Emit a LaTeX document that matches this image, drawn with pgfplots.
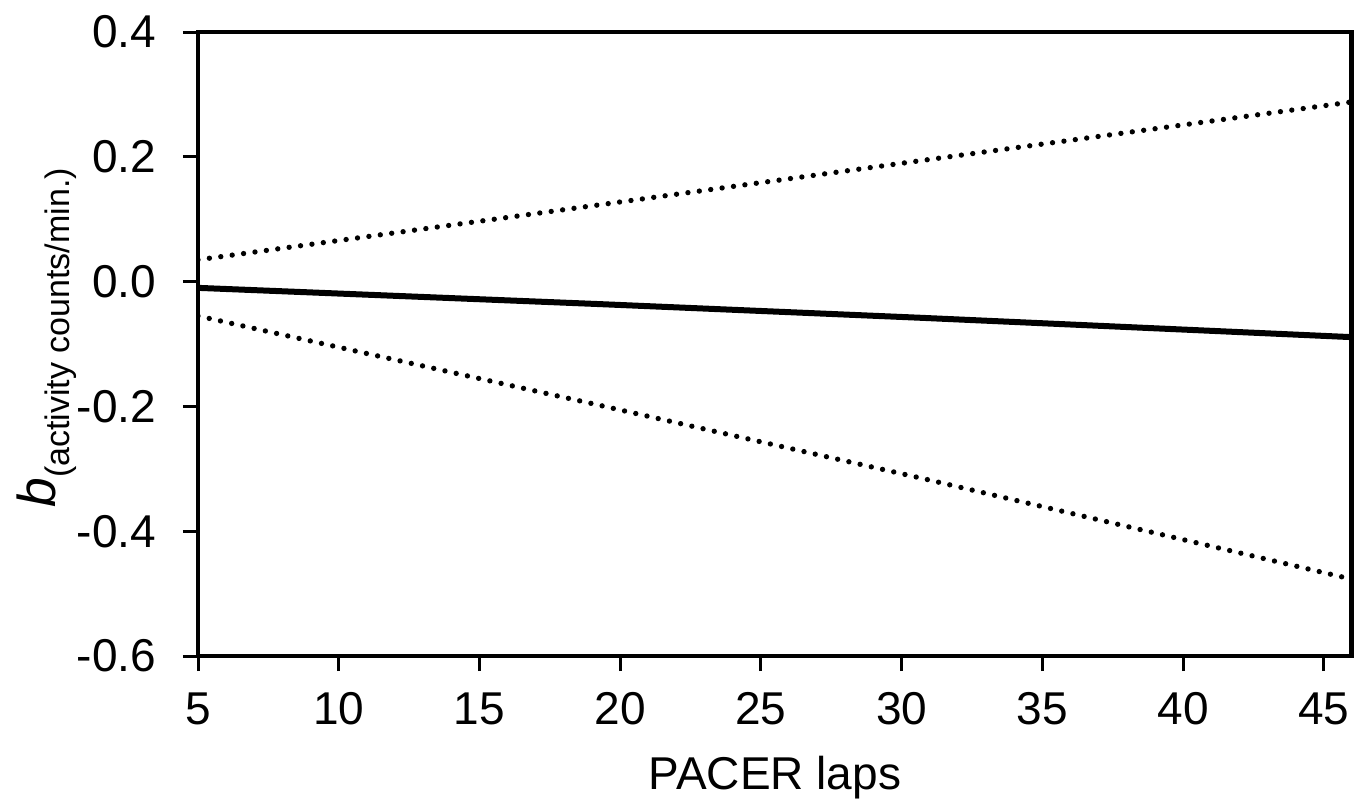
\documentclass[border=0pt]{standalone}
\usepackage{pgfplots}
\pgfplotsset{compat=1.18}
\usepackage{fontspec}
\setmainfont{Liberation Sans}
\begin{document}
\begin{tikzpicture}
% picture frame: 1 px of the reference = 0.3pt
\useasboundingbox (-59.4pt,-45pt) rectangle (349.8pt,196.8pt);
\begin{axis}[
    at={(0pt,0pt)}, anchor=south west,
    scale only axis,
    width=346.2pt, height=187.2pt,
    xmin=5, xmax=46,
    ymin=-0.6, ymax=0.4,
    xtick={5,10,15,20,25,30,35,40,45},
    ytick={-0.6,-0.4,-0.2,0,0.2,0.4},
    /pgf/number format/assume math mode=true,
    tick label style={font=\fontsize{13.8}{16}\selectfont},
    yticklabel style={/pgf/number format/fixed, /pgf/number format/fixed zerofill,
        /pgf/number format/precision=1, xshift=-4.5pt},
    xticklabel style={yshift=-3pt},
    tick align=outside,
    xtick pos=bottom, ytick pos=left,
    major tick length=4.5pt,
    every tick/.style={black, line width=0.9pt},
    axis line style={line width=1pt},
    xlabel={PACER laps},
    every axis x label/.style={at={(axis description cs:0.5,0)}, anchor=center,
        yshift=-36.5pt, font=\fontsize{13.8}{16}\selectfont},
    ylabel={\fontsize{16}{18}\selectfont\textit{b}\raisebox{-0.25em}{\fontsize{10.2}{12}\selectfont(activity counts/min.)}},
    every axis y label/.style={at={(axis description cs:-0.131,0.51)}, anchor=center, rotate=90},
]

\addplot[black, line width=1.8pt] coordinates {
    (5,-0.010) (19.25,-0.036) (30.7,-0.058) (46,-0.089)
};

\addplot[black, line width=1.6pt, line cap=round, dash pattern=on 0pt off 3.45pt] coordinates {
    (5,0.035) (19.25,0.123) (30.7,0.194) (46,0.288)
};

\addplot[black, line width=1.6pt, line cap=round, dash pattern=on 0pt off 3.45pt] coordinates {
    (5,-0.055) (19.25,-0.198) (30.7,-0.315) (46,-0.477)
};

% heavier right edge, as in the reference
\draw[line width=1.7pt] (rel axis cs:1,0) -- (rel axis cs:1,1);

\end{axis}
\end{tikzpicture}
\end{document}
